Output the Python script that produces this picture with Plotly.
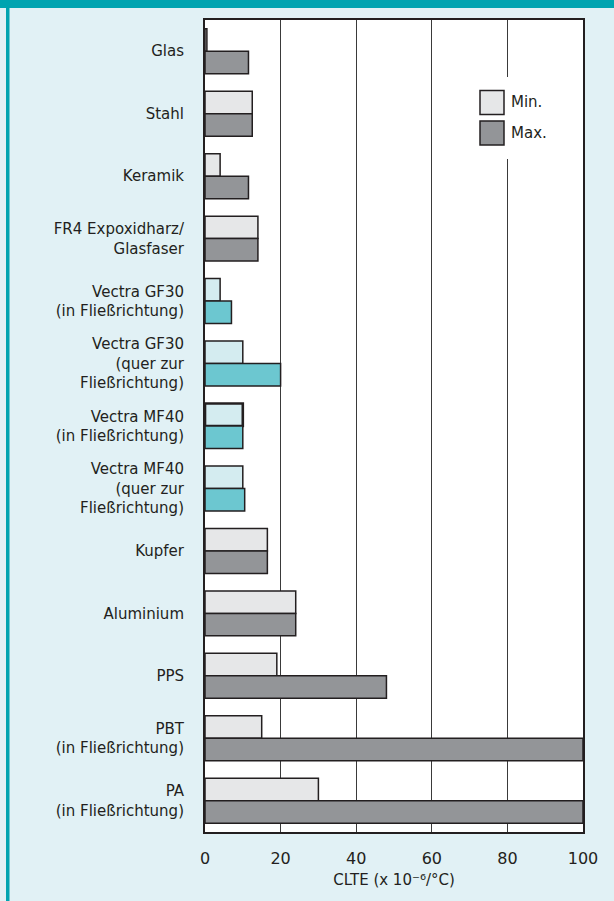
import plotly.graph_objects as go

categories = [
    "Glas", "Stahl", "Keramik", "FR4 Expoxidharz/<br>Glasfaser",
    "Vectra GF30<br>(in Fließrichtung)", "Vectra GF30<br>(quer zur<br>Fließrichtung)",
    "Vectra MF40<br>(in Fließrichtung)", "Vectra MF40<br>(quer zur<br>Fließrichtung)",
    "Kupfer", "Aluminium", "PPS", "PBT<br>(in Fließrichtung)", "PA<br>(in Fließrichtung)",
]
min_values = [0.5, 12.5, 4, 14, 4, 10, 10, 10, 16.5, 24, 19, 15, 30]
max_values = [11.5, 12.5, 11.5, 14, 7, 20, 10, 10.5, 16.5, 24, 48, 100, 100]
is_vectra = [False, False, False, False, True, True, True, True, False, False, False, False, False]
thick_border = [False, False, False, False, False, False, True, False, False, False, False, False, False]
x_ticks = [0, 20, 40, 60, 80, 100]

W, H = 614, 901
ML, MR, MT, MB = 205, 31, 20, 69
PW, PH = W - ML - MR, H - MT - MB

def px(xp):
    return (xp - ML) / PW

def py(yp):
    return (H - MB - yp) / PH

INK = "#231f20"
GRAY_L, GRAY_D = "#e6e7e8", "#939598"
TEAL_L, TEAL_D = "#d4ecf0", "#6cc7d0"
TEAL = "#00a4b0"
BG = "#e1f1f5"
FONT = "DejaVu Sans"

min_colors = [TEAL_L if v else GRAY_L for v in is_vectra]
max_colors = [TEAL_D if v else GRAY_D for v in is_vectra]
line_w = [2.6 if t else 1.5 for t in thick_border]

fig = go.Figure()
fig.add_trace(go.Bar(
    y=categories, x=min_values, orientation="h", name="Min.",
    marker=dict(color=min_colors, line=dict(color=INK, width=line_w)),
    showlegend=False, hoverinfo="skip",
))
fig.add_trace(go.Bar(
    y=categories, x=max_values, orientation="h", name="Max.",
    marker=dict(color=max_colors, line=dict(color=INK, width=1.5)),
    showlegend=False, hoverinfo="skip",
))

shapes = [
    dict(type="rect", xref="paper", yref="paper", x0=px(0), x1=px(W), y0=py(8), y1=py(0),
         fillcolor=TEAL, line=dict(width=0), layer="above"),
    dict(type="rect", xref="paper", yref="paper", x0=px(6), x1=px(9.5), y0=py(H), y1=py(8),
         fillcolor=TEAL, line=dict(width=0), layer="above"),
    dict(type="rect", xref="paper", yref="paper", x0=px(472), x1=px(570), y0=py(159), y1=py(77),
         fillcolor="white", line=dict(width=0), layer="above"),
    dict(type="rect", xref="paper", yref="paper", x0=px(480), x1=px(504), y0=py(114.5), y1=py(90.5),
         fillcolor=GRAY_L, line=dict(color=INK, width=1.5), layer="above"),
    dict(type="rect", xref="paper", yref="paper", x0=px(480), x1=px(504), y0=py(145), y1=py(121),
         fillcolor=GRAY_D, line=dict(color=INK, width=1.5), layer="above"),
]
annotations = [
    dict(text="Min.", xref="paper", yref="paper", x=px(509), y=py(102.5), xanchor="left",
         yanchor="middle", showarrow=False, font=dict(family=FONT, size=15, color=INK)),
    dict(text="Max.", xref="paper", yref="paper", x=px(509), y=py(133), xanchor="left",
         yanchor="middle", showarrow=False, font=dict(family=FONT, size=15, color=INK)),
]

fig.update_layout(
    width=W, height=H,
    margin=dict(l=ML, r=MR, t=MT, b=MB, pad=0),
    paper_bgcolor=BG, plot_bgcolor="white",
    barmode="group", bargap=0.28, bargroupgap=0,
    font=dict(family=FONT, size=15, color=INK),
    shapes=shapes, annotations=annotations,
    xaxis=dict(
        range=[0, 100], tickvals=x_ticks, ticktext=[str(t) for t in x_ticks],
        showgrid=True, gridcolor="#3a3a3a", gridwidth=1, zeroline=False,
        showline=True, mirror=True, linecolor=INK, linewidth=1.5,
        ticks="outside", ticklen=11, tickcolor="rgba(0,0,0,0)",
        tickfont=dict(family=FONT, size=16, color=INK),
        title=dict(text="CLTE (x 10⁻⁶/°C)", standoff=8, font=dict(family=FONT, size=15, color=INK)),
        fixedrange=True,
    ),
    yaxis=dict(
        autorange="reversed", showgrid=False, zeroline=False,
        showline=True, mirror=True, linecolor=INK, linewidth=2,
        ticks="outside", ticklen=16, tickcolor="rgba(0,0,0,0)",
        tickfont=dict(family=FONT, size=15, color=INK),
        fixedrange=True,
    ),
)

fig.write_html(
    "out.html",
    config={"displayModeBar": False},
    post_script="document.body.style.margin='0';document.body.style.overflow='hidden';",
)
